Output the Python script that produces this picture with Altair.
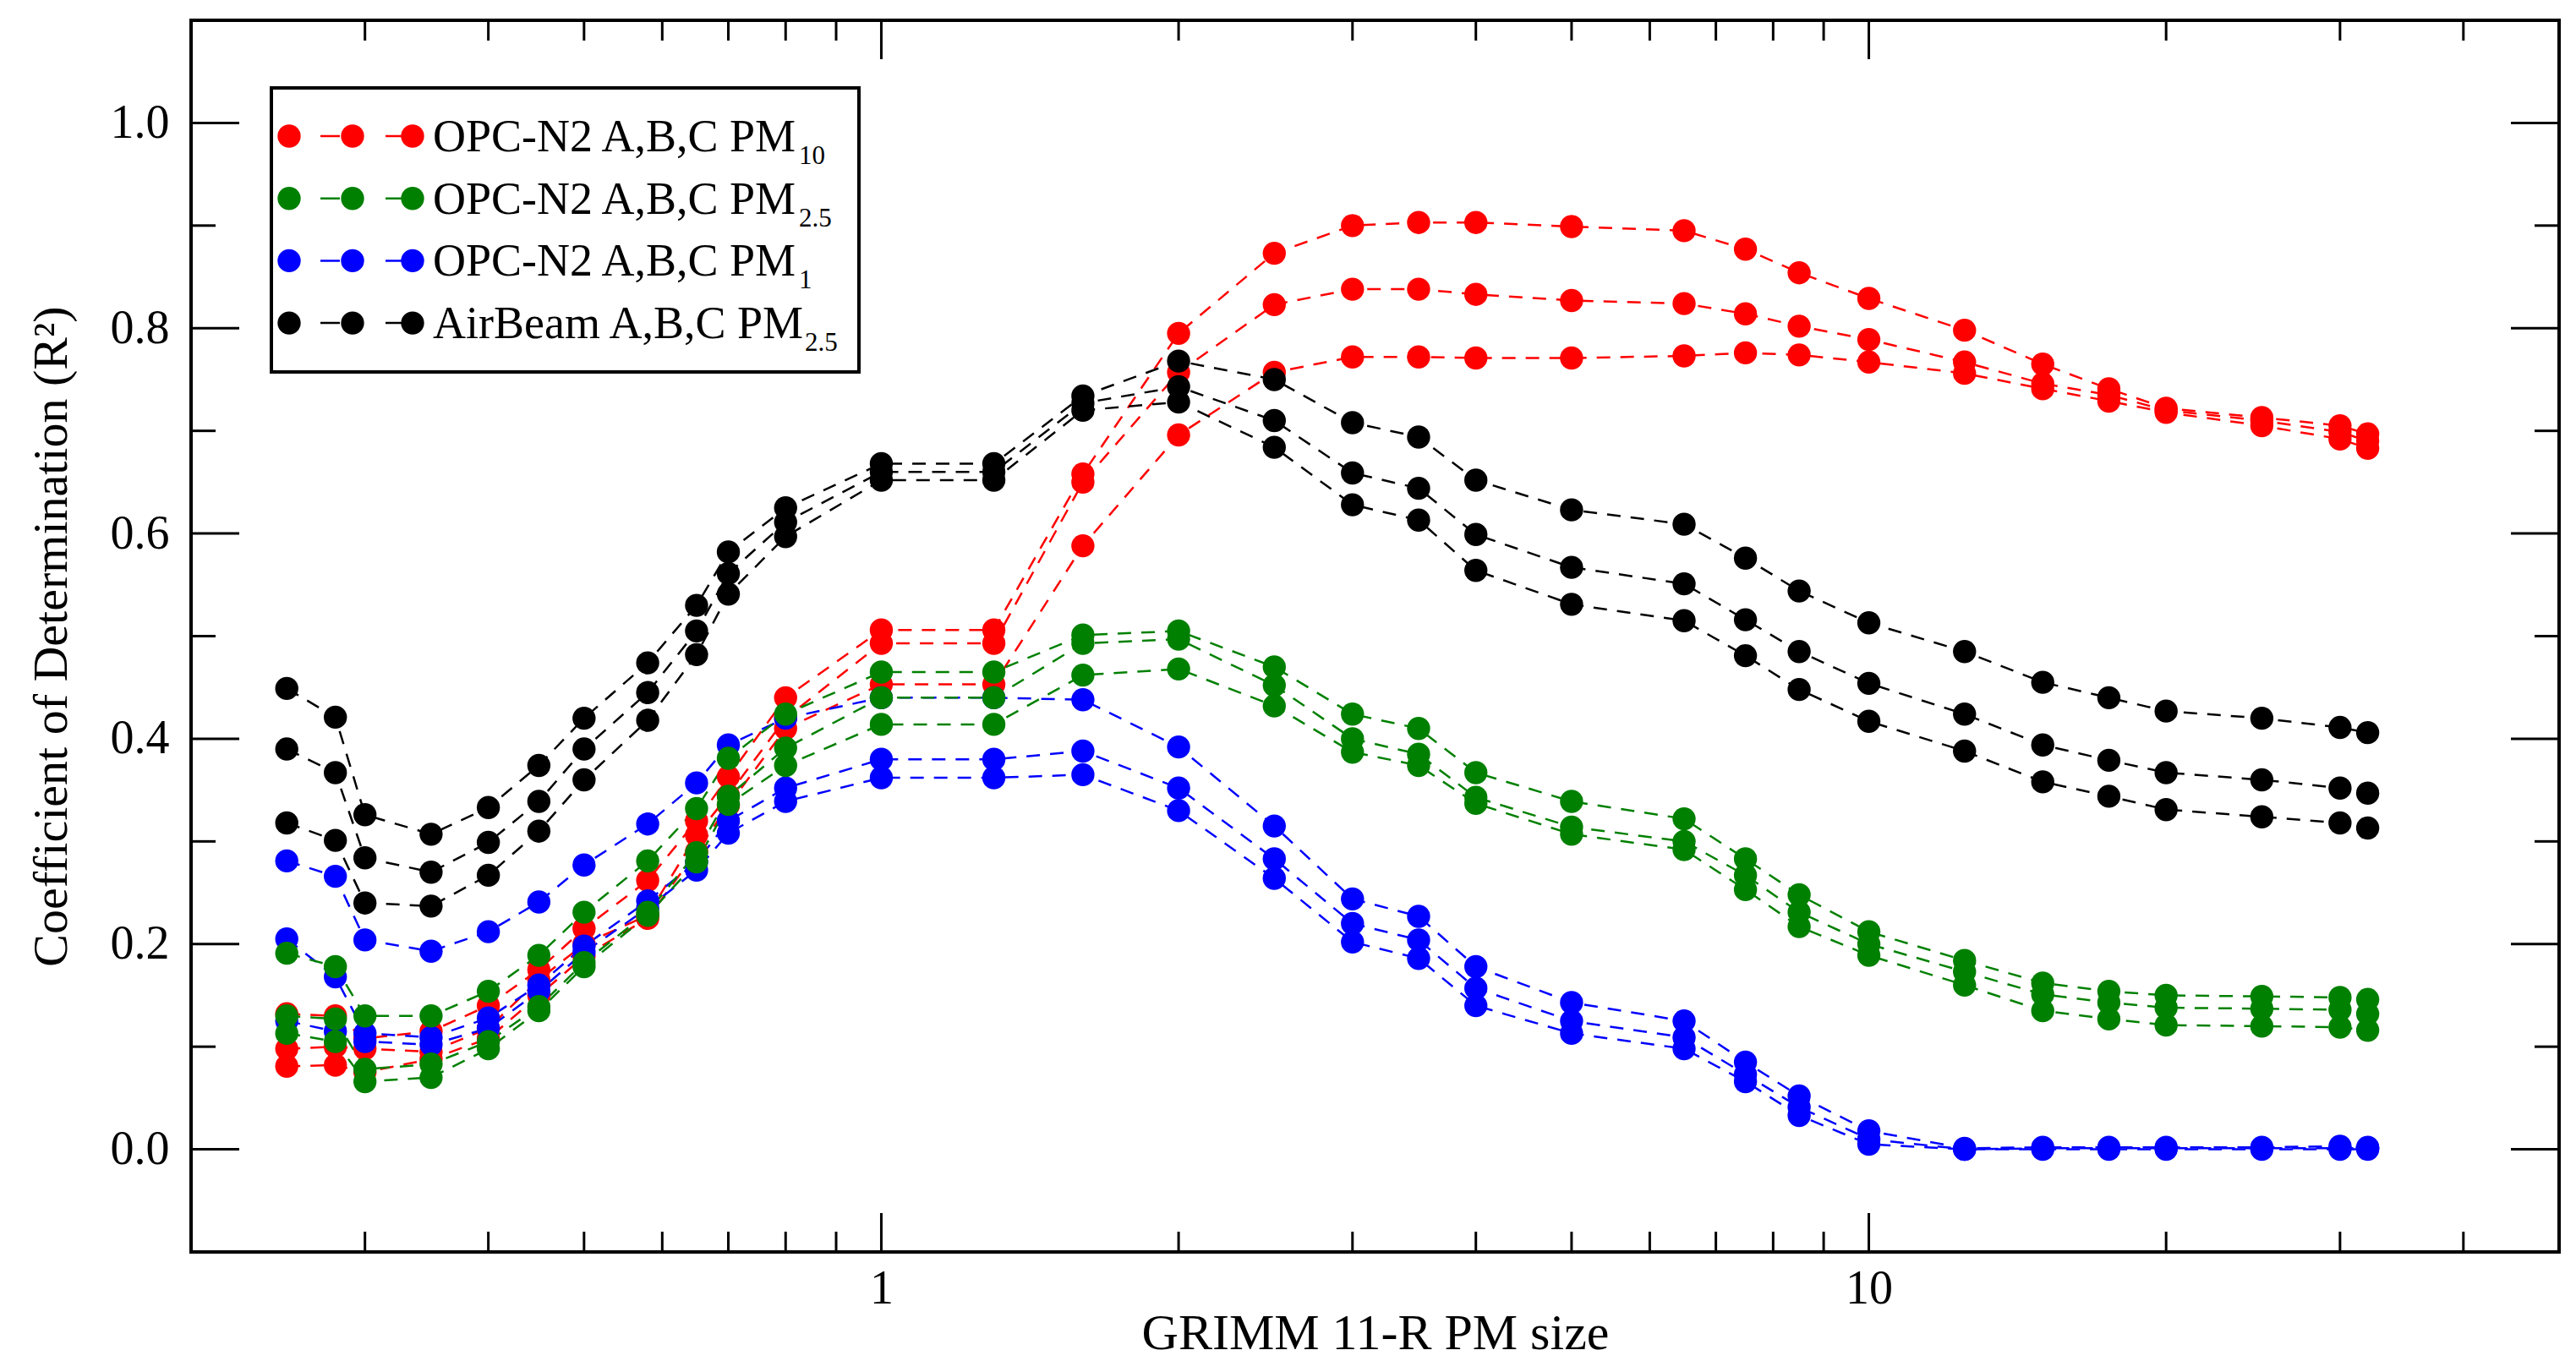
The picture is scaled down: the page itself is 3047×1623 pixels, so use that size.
import altair as alt
import pandas as pd

# ---------------- data ----------------
SIZES = [0.25, 0.28, 0.30, 0.35, 0.40, 0.45, 0.50, 0.58, 0.65, 0.70, 0.80,
         1.0, 1.3, 1.6, 2.0, 2.5, 3.0, 3.5, 4.0, 5.0, 6.5, 7.5, 8.5, 10,
         12.5, 15, 17.5, 20, 25, 30, 32]

OPC_PM10_A = [0.132, 0.130, 0.108, 0.115, 0.140, 0.175, 0.215, 0.262, 0.320, 0.363, 0.440,
              0.506, 0.506, 0.658, 0.795, 0.873, 0.900, 0.903, 0.903, 0.899, 0.895, 0.877,
              0.854, 0.829, 0.798, 0.765, 0.741, 0.722, 0.713, 0.705, 0.697]
OPC_PM10_B = [0.098, 0.100, 0.098, 0.095, 0.118, 0.165, 0.200, 0.228, 0.306, 0.345, 0.420,
              0.493, 0.493, 0.650, 0.757, 0.823, 0.838, 0.838, 0.833, 0.827, 0.824, 0.814,
              0.802, 0.789, 0.767, 0.746, 0.735, 0.720, 0.710, 0.699, 0.690]
OPC_PM10_C = [0.081, 0.082, 0.075, 0.088, 0.108, 0.150, 0.188, 0.225, 0.290, 0.335, 0.410,
              0.453, 0.453, 0.588, 0.696, 0.757, 0.772, 0.772, 0.771, 0.771, 0.773, 0.776,
              0.774, 0.767, 0.756, 0.741, 0.729, 0.718, 0.705, 0.692, 0.683]

OPC_PM25_A = [0.191, 0.178, 0.130, 0.130, 0.154, 0.189, 0.231, 0.281, 0.332, 0.381, 0.424,
              0.465, 0.465, 0.501, 0.505, 0.470, 0.424, 0.410, 0.367, 0.339, 0.322, 0.283,
              0.248, 0.212, 0.184, 0.162, 0.154, 0.150, 0.149, 0.148, 0.146]
OPC_PM25_B = [0.130, 0.127, 0.078, 0.083, 0.105, 0.139, 0.182, 0.231, 0.289, 0.344, 0.391,
              0.440, 0.440, 0.493, 0.497, 0.452, 0.400, 0.385, 0.343, 0.314, 0.300, 0.267,
              0.231, 0.200, 0.173, 0.151, 0.143, 0.138, 0.137, 0.136, 0.132]
OPC_PM25_C = [0.113, 0.105, 0.066, 0.070, 0.098, 0.135, 0.178, 0.228, 0.280, 0.336, 0.374,
              0.414, 0.414, 0.462, 0.468, 0.432, 0.387, 0.374, 0.337, 0.307, 0.292, 0.253,
              0.217, 0.189, 0.160, 0.135, 0.127, 0.121, 0.120, 0.119, 0.116]

OPC_PM1_A = [0.281, 0.266, 0.204, 0.193, 0.212, 0.241, 0.277, 0.317, 0.357, 0.394, 0.420,
             0.440, 0.440, 0.438, 0.392, 0.315, 0.244, 0.227, 0.178, 0.143, 0.125, 0.085,
             0.052, 0.018, 0.001, 0.002, 0.002, 0.002, 0.002, 0.003, 0.002]
OPC_PM1_B = [0.205, 0.168, 0.113, 0.109, 0.128, 0.160, 0.198, 0.242, 0.280, 0.320, 0.352,
             0.380, 0.380, 0.388, 0.352, 0.283, 0.220, 0.204, 0.157, 0.125, 0.109, 0.073,
             0.041, 0.010, 0.000, 0.001, 0.001, 0.001, 0.001, 0.001, 0.001]
OPC_PM1_C = [0.125, 0.115, 0.105, 0.102, 0.118, 0.154, 0.192, 0.235, 0.272, 0.308, 0.339,
             0.362, 0.362, 0.365, 0.330, 0.264, 0.202, 0.186, 0.140, 0.113, 0.098, 0.066,
             0.033, 0.005, 0.000, 0.000, 0.000, 0.000, 0.000, 0.000, 0.000]

AIRBEAM_A = [0.449, 0.421, 0.326, 0.307, 0.333, 0.374, 0.420, 0.474, 0.530, 0.582, 0.625,
             0.668, 0.668, 0.734, 0.768, 0.750, 0.708, 0.694, 0.652, 0.623, 0.609, 0.576,
             0.544, 0.513, 0.485, 0.455, 0.440, 0.427, 0.420, 0.411, 0.406]
AIRBEAM_B = [0.390, 0.367, 0.284, 0.270, 0.299, 0.339, 0.390, 0.445, 0.505, 0.561, 0.611,
             0.660, 0.660, 0.727, 0.743, 0.710, 0.659, 0.644, 0.599, 0.567, 0.551, 0.516,
             0.485, 0.454, 0.424, 0.394, 0.379, 0.367, 0.360, 0.352, 0.347]
AIRBEAM_C = [0.318, 0.301, 0.240, 0.237, 0.267, 0.310, 0.360, 0.418, 0.482, 0.541, 0.597,
             0.652, 0.652, 0.720, 0.728, 0.684, 0.628, 0.613, 0.564, 0.531, 0.515, 0.481,
             0.448, 0.417, 0.388, 0.358, 0.344, 0.331, 0.324, 0.318, 0.313]

GROUPS = ["OPC-N2 PM10", "OPC-N2 PM1", "OPC-N2 PM2.5", "AirBeam PM2.5"]
COLORS = ["#ff0000", "#0000ff", "#008000", "#000000"]
SERIES = {
    "OPC-N2 PM10": [OPC_PM10_A, OPC_PM10_B, OPC_PM10_C],
    "OPC-N2 PM1": [OPC_PM1_A, OPC_PM1_B, OPC_PM1_C],
    "OPC-N2 PM2.5": [OPC_PM25_A, OPC_PM25_B, OPC_PM25_C],
    "AirBeam PM2.5": [AIRBEAM_A, AIRBEAM_B, AIRBEAM_C],
}

# legend entries (in reference order)
LEG_MAIN = ["OPC-N2 A,B,C PM", "OPC-N2 A,B,C PM", "OPC-N2 A,B,C PM", "AirBeam A,B,C PM"]
LEG_SUB = ["10", "2.5", "1", "2.5"]
LEG_COLORS = ["#ff0000", "#008000", "#0000ff", "#000000"]

X_MAJOR = [1, 10]
X_MINOR = [0.3, 0.4, 0.5, 0.6, 0.7, 0.8, 0.9, 2, 3, 4, 5, 6, 7, 8, 9, 20, 30, 40]
Y_MAJOR = [0.0, 0.2, 0.4, 0.6, 0.8, 1.0]
Y_MINOR = [0.1, 0.3, 0.5, 0.7, 0.9]

# ---------------- build table ----------------
rows = []
for g in GROUPS:
    for unit, vals in zip("ABC", SERIES[g]):
        for s, v in zip(SIZES, vals):
            rows.append({"size": s, "r2": v, "group": g, "series": g + " " + unit})
df = pd.DataFrame(rows)

W, H = 2801, 1457
FONT = "Liberation Serif"

xscale = alt.Scale(type="log", domain=[0.2, 50], nice=False)
yscale = alt.Scale(domain=[-0.1, 1.1], nice=False, zero=False)
cscale = alt.Scale(domain=GROUPS, range=COLORS)

x_axis = alt.Axis(values=X_MAJOR, format="d", labels=True, labelFont=FONT, labelFontSize=56,
                  labelColor="black", ticks=False, tickSize=0, domain=False, grid=False,
                  labelPadding=16, title="GRIMM 11-R PM size", titleFont=FONT,
                  titleFontSize=60, titleFontWeight="normal", titleColor="black",
                  titleX=W / 2, titleY=114, titleBaseline="alphabetic", titleAlign="center")
y_axis = alt.Axis(values=Y_MAJOR, format=".1f", labels=True, labelFont=FONT, labelFontSize=56,
                  labelColor="black", ticks=False, tickSize=0, domain=False, grid=False,
                  labelPadding=26, title="Coefficient of Determination (R²)",
                  titleFont=FONT, titleFontSize=58, titleFontWeight="normal",
                  titleColor="black", titleAngle=270, titleX=-165, titleY=H / 2,
                  titleAlign="center", titleBaseline="middle")

base = alt.Chart(df)
lines = base.mark_line(strokeDash=[16, 12], strokeWidth=2.5).encode(
    x=alt.X("size:Q", scale=xscale, axis=x_axis),
    y=alt.Y("r2:Q", scale=yscale, axis=y_axis),
    color=alt.Color("group:N", scale=cscale, legend=None),
    detail="series:N",
)
points = base.mark_circle(size=750, opacity=1).encode(
    x=alt.X("size:Q", scale=xscale),
    y=alt.Y("r2:Q", scale=yscale),
    color=alt.Color("group:N", scale=cscale, legend=None),
)

layers = [lines, points]

# inward ticks on all four sides
def xticks(vals, length):
    d = pd.DataFrame({"size": vals})
    top = alt.Chart(d).mark_rule(color="black", strokeWidth=3).encode(
        x=alt.X("size:Q", scale=xscale), y=alt.value(0), y2=alt.value(length))
    bot = alt.Chart(d).mark_rule(color="black", strokeWidth=3).encode(
        x=alt.X("size:Q", scale=xscale), y=alt.value(H), y2=alt.value(H - length))
    return [top, bot]

def yticks(vals, length):
    d = pd.DataFrame({"r2": vals})
    left = alt.Chart(d).mark_rule(color="black", strokeWidth=3).encode(
        y=alt.Y("r2:Q", scale=yscale), x=alt.value(0), x2=alt.value(length))
    right = alt.Chart(d).mark_rule(color="black", strokeWidth=3).encode(
        y=alt.Y("r2:Q", scale=yscale), x=alt.value(W), x2=alt.value(W - length))
    return [left, right]

layers += xticks(X_MAJOR, 46) + xticks(X_MINOR, 24)
layers += yticks(Y_MAJOR, 57) + yticks(Y_MINOR, 29)

# ---------------- custom legend ----------------
one = pd.DataFrame({"k": [0]})
layers.append(alt.Chart(one).mark_rect(fill="white", stroke="black", strokeWidth=4).encode(
    x=alt.value(95), x2=alt.value(790), y=alt.value(80), y2=alt.value(416)))
for i, (main, sub, col) in enumerate(zip(LEG_MAIN, LEG_SUB, LEG_COLORS)):
    cy = 137 + 73.7 * i
    layers.append(alt.Chart(one).mark_rule(color=col, strokeWidth=2.5, strokeDash=[23, 54],
                                            strokeDashOffset=40).encode(
        x=alt.value(116), x2=alt.value(262), y=alt.value(cy)))
    for cx in (116, 191, 262):
        layers.append(alt.Chart(one).mark_circle(size=750, opacity=1, color=col).encode(
            x=alt.value(cx), y=alt.value(cy)))
    layers.append(alt.Chart(one).mark_text(text=main, font=FONT, fontSize=54, align="left",
                                           baseline="alphabetic", color="black").encode(
        x=alt.value(286), y=alt.value(cy + 18)))
    sub_x = 719 if i < 3 else 726
    layers.append(alt.Chart(one).mark_text(text=sub, font=FONT, fontSize=31, align="left",
                                           baseline="alphabetic", color="black").encode(
        x=alt.value(sub_x), y=alt.value(cy + 33)))

chart = alt.layer(*layers).properties(
    width=W, height=H,
    autosize=alt.AutoSizeParams(type="none"),
    padding={"left": 218, "top": 16, "right": 10, "bottom": 134},
).configure_view(stroke="black", strokeWidth=4)

chart.save("out.html", embed_options={"renderer": "svg", "actions": False})
